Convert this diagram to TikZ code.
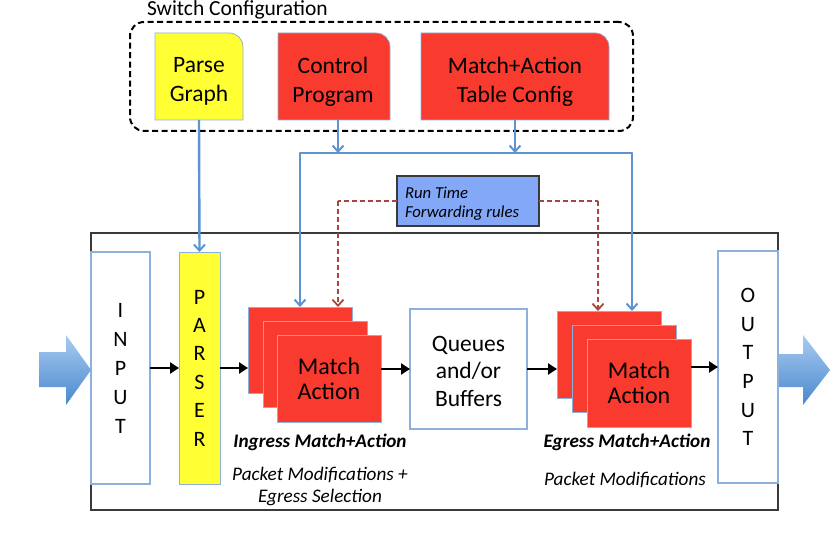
\documentclass[tikz,border=0pt]{standalone}
\usepackage{fontspec}
\setmainfont{Carlito}
\usetikzlibrary{arrows.meta}
\definecolor{redfill}{HTML}{F93A2F}
\definecolor{yelfill}{HTML}{FFFF33}
\definecolor{lightborder}{HTML}{8DB0DC}
\definecolor{blueline}{HTML}{5E93CF}
\definecolor{reddash}{HTML}{A8453F}
\definecolor{rtfill}{HTML}{82A8F7}
\definecolor{darkborder}{HTML}{3A3A3A}
\definecolor{arrtop}{HTML}{A8CBF0}
\definecolor{arrbot}{HTML}{4A88CE}
\newcommand\tabbox[5]{%
  \filldraw[fill=#5, draw=lightborder, line width=0.8pt]
    (#1,#4) -- (#1,#2) -- ({#3-14},#2) .. controls ({#3-6},#2) and (#3,{#2+6}) .. (#3,{#2+14}) -- (#3,#4) -- cycle;}
\tikzset{
  plain/.style={inner sep=0pt, outer sep=0pt, align=center},
  lbox/.style={plain, draw=lightborder, fill=white, line width=1.2pt},
  redbox/.style={plain, draw=lightborder, fill=redfill, line width=0.8pt},
  bluearrow/.style={draw=blueline, line width=2.4pt, -{Straight Barb[length=6pt,width=11pt,line width=2pt]}},
  blueline/.style={draw=blueline, line width=2.4pt},
  reddashed/.style={draw=reddash, line width=2pt, dash pattern=on 5pt off 3pt},
  reddasharrow/.style={reddashed, -{Straight Barb[length=6pt,width=11pt,line width=1.8pt]}},
  blkarrow/.style={draw=black, line width=2.8pt, -{Triangle[length=9pt,width=11pt]}},
  bigtxt/.style={font=\fontsize{23.5}{29}\selectfont},
}
\begin{document}
\begin{tikzpicture}[x=1pt,y=-1pt]
\useasboundingbox (0,0) rectangle (838,545);

% switch configuration
\node[plain, anchor=west, font=\fontsize{21.5}{24}\selectfont] (swlabel) at (147,10) {Switch Configuration};
\node[draw=black, line width=2pt, dash pattern=on 6pt off 3.5pt, rounded corners=14pt,
      minimum width=503pt, minimum height=109pt, plain] (cfg) at (381.5,76.5) {};

\tabbox{155}{33}{243}{120}{yelfill}
\tabbox{278}{33}{390}{120}{redfill}
\tabbox{421}{33}{609}{120}{redfill}
\node[plain, bigtxt, minimum width=88pt, minimum height=77pt] (pg) at (199,81.5) {Parse\\Graph};
\node[plain, bigtxt, minimum width=112pt, minimum height=77pt] (cp) at (333,81.5) {Control\\Program};
\node[plain, bigtxt, minimum width=188pt, minimum height=77pt] (tc) at (515,81.5) {Match+Action\\Table Config};

% main box
\node[plain, draw=darkborder, line width=1.4pt, minimum width=687pt, minimum height=277pt] (sw) at (434.5,371.5) {};

% big arrows
\shade[top color=arrtop, bottom color=arrbot] (39,352) -- (66,352) -- (66,335) -- (91,370) -- (66,405) -- (66,387) -- (39,387) -- cycle;
\shade[top color=arrtop, bottom color=arrbot] (778,354) -- (803,354) -- (803,335) -- (830,370) -- (803,405) -- (803,387) -- (778,387) -- cycle;

% input / parser / output
\node[lbox, minimum width=59pt, minimum height=232pt, font=\fontsize{22}{29}\selectfont] (input) at (120.5,368) {I\\N\\P\\U\\T};
\node[plain, draw=lightborder, fill=yelfill, line width=0.8pt, minimum width=41pt, minimum height=232pt, font=\fontsize{22}{28.4}\selectfont] (parser) at (199.5,368) {P\\A\\R\\S\\E\\R};
\node[lbox, minimum width=60pt, minimum height=232pt, font=\fontsize{22}{28.6}\selectfont] (output) at (748,367) {O\\U\\T\\P\\U\\T};

% ingress stack
\node[redbox, minimum width=104pt, minimum height=86pt] (ingback) at (300,350) {};
\node[redbox, minimum width=104pt, minimum height=86pt] (ingmid) at (315,364) {};
\node[redbox, minimum width=104pt, minimum height=87pt, font=\fontsize{24}{25}\selectfont] (ingfront) at (329,378.5) {Match\\Action};

% queues
\node[lbox, minimum width=117pt, minimum height=120pt] (queues) at (468.5,369) {};
\node[plain, font=\fontsize{23.5}{27.5}\selectfont] (qtxt) at (468.5,371) {Queues\\and/or\\Buffers};

% egress stack
\node[redbox, minimum width=104pt, minimum height=87pt] (egback) at (609,354.5) {};
\node[redbox, minimum width=104pt, minimum height=87pt] (egmid) at (624,368.5) {};
\node[redbox, minimum width=104pt, minimum height=88pt, font=\fontsize{24}{25}\selectfont] (egfront) at (639,383) {Match\\Action};

% run time box
\node[plain, draw=darkborder, fill=rtfill, line width=1.4pt, minimum width=142pt, minimum height=50pt] (rt) at (468,201) {};
\node[plain, anchor=west, align=left, font=\fontsize{16.7}{19}\selectfont\itshape] (rttxt) at (405,204) {Run Time\\Forwarding rules};

% labels
\node[plain, font=\fontsize{19.2}{22}\selectfont\bfseries\itshape] (inglabel) at (320,442) {Ingress Match+Action};
\node[plain, font=\fontsize{19.2}{22}\selectfont\itshape] (ingmod) at (320,486) {Packet Modifications +\\Egress Selection};
\node[plain, font=\fontsize{19.2}{22}\selectfont\bfseries\itshape] (eglabel) at (627,442) {Egress Match+Action};
\node[plain, font=\fontsize{19.2}{22}\selectfont\itshape] (egmod) at (625,480) {Packet Modifications};

% blue configuration connectors
\coordinate (hl) at (300,153);
\coordinate (hr) at (632,153);
\draw[blueline, line cap=round] (hl) -- (hr);
\draw[bluearrow] (pg.south) -- (parser.north);
\draw[bluearrow] ([xshift=5pt]cp.south) -- ([xshift=5pt]cp.south |- hl);
\draw[bluearrow] (tc.south) -- (tc.south |- hr);
\draw[bluearrow] (hl) -- (ingback.north);
\draw[bluearrow] (hr) -- (hr |- egback.north);

% red dashed runtime connectors
\coordinate (rl) at (338,201);
\coordinate (rr) at (598,201);
\draw[reddashed] (rt.west) -- (rl);
\draw[reddasharrow] (rl) -- (rl |- ingback.north);
\draw[reddashed] (rt.east) -- (rr);
\draw[reddasharrow] (rr) -- (rr |- egback.north);

% black data path arrows
\draw[blkarrow] (input.east) -- (parser.west);
\draw[blkarrow] (parser.east) -- (parser.east -| ingback.west);
\draw[blkarrow] (ingfront.east |- queues.west) -- (queues.west);
\draw[blkarrow] (queues.east) -- (queues.east -| egback.west);
\draw[blkarrow] (egfront.east |- output.west) -- (output.west);
\end{tikzpicture}
\end{document}
